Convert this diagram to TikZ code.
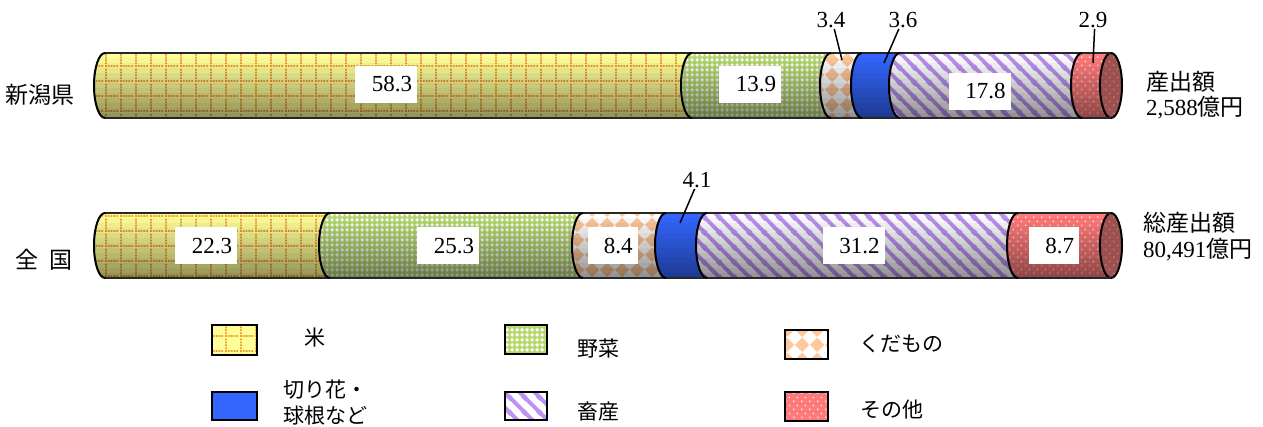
\documentclass[tikz,border=0pt]{standalone}
\usepackage{fontspec}
\newfontfamily\jp{Noto Sans CJK JP}
\newfontfamily\numf{Liberation Serif}
\usetikzlibrary{patterns}

\definecolor{riceY}{HTML}{FFFF99}
\definecolor{riceO}{HTML}{F59A30}
\definecolor{vegG}{HTML}{B4D96A}
\definecolor{fruitO}{HTML}{FFC89A}
\definecolor{flowB}{HTML}{3366FF}
\definecolor{meatP}{HTML}{BC92F2}
\definecolor{othR}{HTML}{FF7A7A}
\definecolor{othD}{HTML}{9C5050}
\definecolor{othDd}{HTML}{C89090}

\pgfdeclarepatternformonly{ricegrid}{\pgfpoint{0pt}{0pt}}{\pgfpoint{15pt}{15pt}}{\pgfpoint{15pt}{15pt}}{%
  \foreach \k in {0,3,6,9,12}{%
    \pgfpathrectangle{\pgfpoint{0pt}{\k pt}}{\pgfpoint{1.9pt}{1.9pt}}%
    \pgfpathrectangle{\pgfpoint{\k pt}{0pt}}{\pgfpoint{1.9pt}{1.9pt}}}%
  \pgfusepath{fill}}
\pgfdeclarepatternformonly{vegholes}{\pgfpoint{0pt}{0pt}}{\pgfpoint{5pt}{5pt}}{\pgfpoint{5pt}{5pt}}{%
  \pgfpathmoveto{\pgfpoint{2.5pt}{0.2pt}}\pgfpathlineto{\pgfpoint{4.8pt}{2.5pt}}%
  \pgfpathlineto{\pgfpoint{2.5pt}{4.8pt}}\pgfpathlineto{\pgfpoint{0.2pt}{2.5pt}}\pgfpathclose
  \pgfusepath{fill}}
\pgfdeclarepatternformonly{diamonds}{\pgfpoint{0pt}{0pt}}{\pgfpoint{15pt}{15pt}}{\pgfpoint{15pt}{15pt}}{%
  \pgfpathmoveto{\pgfpoint{0pt}{7.5pt}}\pgfpathlineto{\pgfpoint{7.5pt}{0pt}}%
  \pgfpathlineto{\pgfpoint{15pt}{7.5pt}}\pgfpathlineto{\pgfpoint{7.5pt}{15pt}}\pgfpathclose
  \pgfusepath{fill}}
\pgfdeclarepatternformonly{slashes}{\pgfpoint{0pt}{0pt}}{\pgfpoint{15pt}{15pt}}{\pgfpoint{15pt}{15pt}}{%
  \pgfsetlinewidth{4pt}%
  \pgfpathmoveto{\pgfpoint{-2pt}{17pt}}\pgfpathlineto{\pgfpoint{17pt}{-2pt}}%
  \pgfpathmoveto{\pgfpoint{-3pt}{3pt}}\pgfpathlineto{\pgfpoint{3pt}{-3pt}}%
  \pgfpathmoveto{\pgfpoint{12pt}{18pt}}\pgfpathlineto{\pgfpoint{18pt}{12pt}}%
  \pgfusepath{stroke}}
\pgfdeclarepatternformonly{dotgrid}{\pgfpoint{0pt}{0pt}}{\pgfpoint{8pt}{8pt}}{\pgfpoint{8pt}{8pt}}{%
  \pgfpathcircle{\pgfpoint{2pt}{2pt}}{0.9pt}%
  \pgfpathcircle{\pgfpoint{6pt}{6pt}}{0.9pt}%
  \pgfusepath{fill}}

\newcommand\SegPath[4]{(#1,#3) -- (#2,#3) arc[start angle=90,end angle=270,x radius=11pt,y radius=32.5pt] -- (#1,#4) arc[start angle=270,end angle=90,x radius=11pt,y radius=32.5pt] -- cycle}

\tikzset{
  rice/.style={preaction={fill=riceY}, pattern=ricegrid, pattern color=riceO},
  veg/.style={preaction={fill=vegG}, pattern=vegholes, pattern color=white},
  fruit/.style={preaction={fill=white}, pattern=diamonds, pattern color=fruitO},
  flow/.style={fill=flowB},
  meat/.style={preaction={fill=white}, pattern=slashes, pattern color=meatP},
  oth/.style={preaction={fill=othR}, pattern=dotgrid, pattern color=white},
  othend/.style={preaction={fill=othD}, pattern=dotgrid, pattern color=othDd},
  bound/.style={draw=black, line width=2pt},
  rim/.style={draw=black!85, line width=1.2pt},
  numfont/.style={font=\numf\fontsize{23}{27}\selectfont},
  lab4/.style={numfont, fill=white, text width=52pt, align=right, inner xsep=5pt, inner ysep=0pt, minimum height=37pt},
  lab3/.style={numfont, fill=white, text width=40pt, align=right, inner xsep=5pt, inner ysep=0pt, minimum height=37pt},
  callout/.style={numfont, inner sep=1pt},
  leader/.style={draw=black, line width=1.5pt},
  side/.style={numfont, inner sep=0pt},
  legkey/.style={draw=black, line width=1.8pt, inner sep=0pt},
  legtext/.style={font=\jp\fontsize{21}{26}\selectfont, inner sep=0pt, anchor=west, align=left},
}

\begin{document}
\begin{tikzpicture}[x=1pt,y=-1pt]
\useasboundingbox (0,0) rectangle (1263,427);

% ---------- Niigata bar ----------
\path[rice]  \SegPath{105}{692}{53}{118};
\path[veg]   \SegPath{692}{831}{53}{118};
\path[fruit] \SegPath{831}{862}{53}{118};
\path[flow]  \SegPath{862}{900}{53}{118};
\path[meat]  \SegPath{900}{1082}{53}{118};
\path[oth]   \SegPath{1082}{1111}{53}{118};
\begin{scope}
  \clip (105,53) -- (1111,53) -- (1111,118) -- (105,118) arc[start angle=270,end angle=90,x radius=11pt,y radius=32.5pt] -- cycle;
  \foreach \i [evaluate=\i as \op using 0.035*\i, evaluate=\i as \yy using 53+5*\i] in {0,...,12}
    \fill[black, opacity=\op] (90,\yy) rectangle (1130,{\yy+5.2});
\end{scope}
\path[othend] (1111,85.5) ellipse[x radius=11pt, y radius=32.5pt];
\draw[bound] (1111,85.5) ellipse[x radius=11pt, y radius=32.5pt];
\draw[rim] (105,53) -- (1111,53) (105,118) -- (1111,118);
\foreach \xb in {105,692,831,862,900,1082}
  \draw[bound] (\xb,53) arc[start angle=90,end angle=270,x radius=11pt,y radius=32.5pt];

% ---------- Japan bar ----------
\path[rice]  \SegPath{105}{330}{213}{278};
\path[veg]   \SegPath{330}{583}{213}{278};
\path[fruit] \SegPath{583}{666}{213}{278};
\path[flow]  \SegPath{666}{707}{213}{278};
\path[meat]  \SegPath{707}{1018}{213}{278};
\path[oth]   \SegPath{1018}{1111}{213}{278};
\begin{scope}
  \clip (105,213) -- (1111,213) -- (1111,278) -- (105,278) arc[start angle=270,end angle=90,x radius=11pt,y radius=32.5pt] -- cycle;
  \foreach \i [evaluate=\i as \op using 0.035*\i, evaluate=\i as \yy using 213+5*\i] in {0,...,12}
    \fill[black, opacity=\op] (90,\yy) rectangle (1130,{\yy+5.2});
\end{scope}
\path[othend] (1111,245.5) ellipse[x radius=11pt, y radius=32.5pt];
\draw[bound] (1111,245.5) ellipse[x radius=11pt, y radius=32.5pt];
\draw[rim] (105,213) -- (1111,213) (105,278) -- (1111,278);
\foreach \xb in {105,330,583,666,707,1018}
  \draw[bound] (\xb,213) arc[start angle=90,end angle=270,x radius=11pt,y radius=32.5pt];

% ---------- value labels ----------
\node[lab4] (v583) at (386,84.5) {58.3};
\node[lab4] (v139) at (750,84.5) {13.9};
\node[lab4] (v178) at (979.5,91.5) {17.8};
\node[lab4] (v223) at (206,246) {22.3};
\node[lab4] (v253) at (448,246) {25.3};
\node[lab3] (v84)  at (612.5,246) {8.4};
\node[lab4] (v312) at (853.5,246) {31.2};
\node[lab3] (v87)  at (1054,246) {8.7};

% ---------- callouts ----------
\node[callout] (c34) at (831,20) {3.4};
\node[callout] (c36) at (903,20) {3.6};
\node[callout] (c29) at (1093,20) {2.9};
\node[callout] (c41) at (697,180) {4.1};
\coordinate (p34) at (842,60);
\coordinate (p36) at (884,63);
\coordinate (p29) at (1093,63);
\coordinate (p41) at (680,223);
\draw[leader] (c34.-70) -- (p34);
\draw[leader] (c36.-115) -- (p36);
\draw[leader] (c29.-80) -- (p29);
\draw[leader] (c41.-105) -- (p41);

% ---------- side labels ----------
\node[side] (ln) at (40,95) {\jp 新潟県};
\node[side] (lz) at (44.5,260) {\jp 全\hspace{11pt}国};
\node[side, anchor=west] (r1a) at (1146,82) {\jp 産出額};
\node[side, anchor=west] (r1b) at (1146,108) {2,588\jp 億円};
\node[side, anchor=west] (r2a) at (1143,223) {\jp 総産出額};
\node[side, anchor=west] (r2b) at (1143,250) {80,491\jp 億円};

% ---------- legend ----------
\node[legkey, rice,  minimum width=45pt, minimum height=30pt] (k1) at (234.5,340) {};
\node[legkey, veg,   minimum width=42pt, minimum height=29pt] (k2) at (526,339.5) {};
\node[legkey, fruit, minimum width=43pt, minimum height=29pt] (k3) at (806.5,344.5) {};
\node[legkey, flow,  minimum width=45pt, minimum height=28pt] (k4) at (234.5,406) {};
\node[legkey, meat,  minimum width=42pt, minimum height=28pt] (k5) at (526,406) {};
\node[legkey, oth,   minimum width=43pt, minimum height=29pt] (k6) at (806.5,406.5) {};
\node[legtext] (t1) at (304,338) {米};
\node[legtext] (t2) at (577,349) {野菜};
\node[legtext] (t3) at (859,344) {くだもの};
\node[legtext] (t4) at (283,403) {切り花・\\球根など};
\node[legtext] (t5) at (577,411) {畜産};
\node[legtext] (t6) at (860,410) {その他};
\end{tikzpicture}
\end{document}
